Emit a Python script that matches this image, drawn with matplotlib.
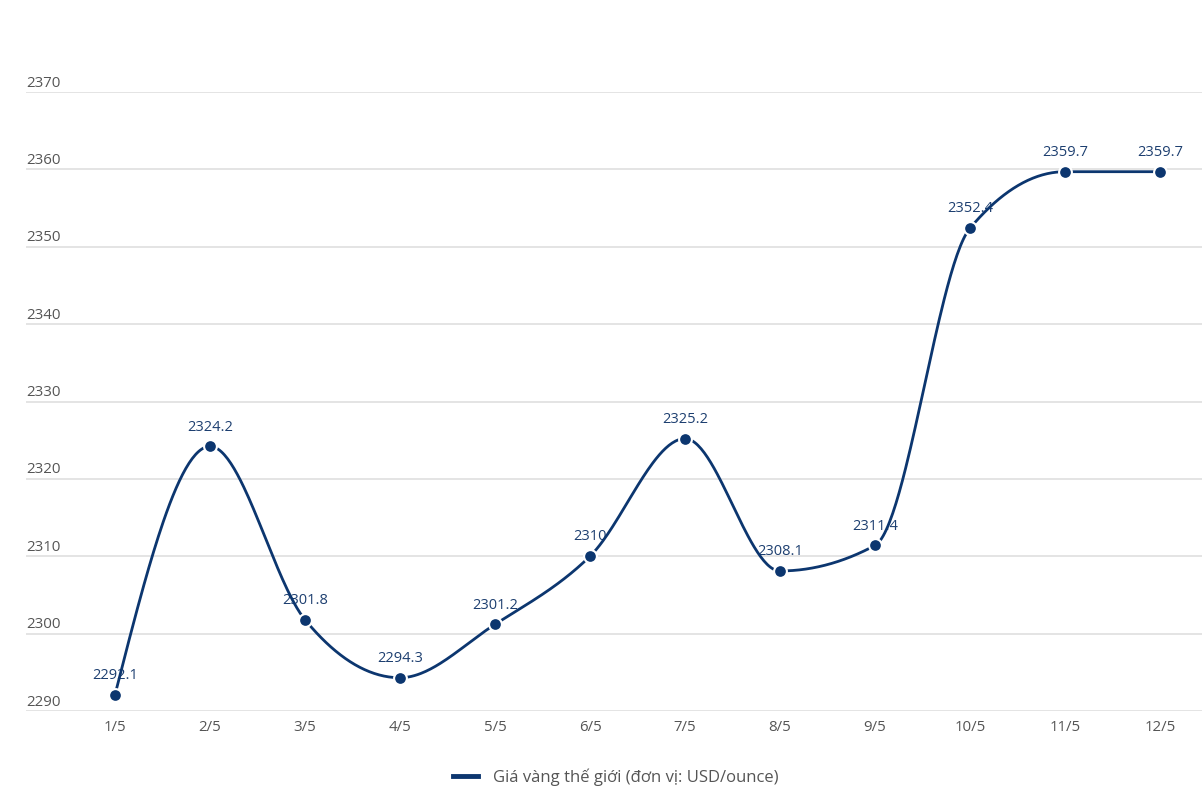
import numpy as np
import matplotlib
matplotlib.use("Agg")
import matplotlib.pyplot as plt
from matplotlib.lines import Line2D

plt.rcParams['font.family'] = ['Open Sans', 'DejaVu Sans']

categories = ["1/5", "2/5", "3/5", "4/5", "5/5", "6/5", "7/5", "8/5", "9/5", "10/5", "11/5", "12/5"]
values = [2292.1, 2324.2, 2301.8, 2294.3, 2301.2, 2310, 2325.2, 2308.1, 2311.4, 2352.4, 2359.7, 2359.7]
value_labels = ["2292.1", "2324.2", "2301.8", "2294.3", "2301.2", "2310", "2325.2", "2308.1", "2311.4", "2352.4", "2359.7", "2359.7"]
y_ticks = [2290, 2300, 2310, 2320, 2330, 2340, 2350, 2360, 2370]
series_name = "Giá vàng thế giới (đơn vị: USD/ounce)"

LINE = "#0c366f"
TEXT_NAVY = "#1d3f70"
GRAY = "#555555"
GRID = "#dcdcdc"


def monotone_x(xs, ys, n=60):
    xs = np.asarray(xs, float)
    ys = np.asarray(ys, float)
    m = len(xs)
    t = np.zeros(m)
    for i in range(1, m - 1):
        h0 = xs[i] - xs[i - 1]
        h1 = xs[i + 1] - xs[i]
        s0 = (ys[i] - ys[i - 1]) / h0
        s1 = (ys[i + 1] - ys[i]) / h1
        p = (s0 * h1 + s1 * h0) / (h0 + h1)
        t[i] = (np.sign(s0) + np.sign(s1)) * min(abs(s0), abs(s1), 0.5 * abs(p))
    h = xs[1] - xs[0]
    t[0] = (3 * (ys[1] - ys[0]) / h - t[1]) / 2
    h = xs[-1] - xs[-2]
    t[-1] = (3 * (ys[-1] - ys[-2]) / h - t[-2]) / 2
    outx, outy = [], []
    for i in range(m - 1):
        dx = xs[i + 1] - xs[i]
        u = np.linspace(0, 1, n)
        h00 = 2 * u**3 - 3 * u**2 + 1
        h10 = u**3 - 2 * u**2 + u
        h01 = -2 * u**3 + 3 * u**2
        h11 = u**3 - u**2
        yy = h00 * ys[i] + h10 * dx * t[i] + h01 * ys[i + 1] + h11 * dx * t[i + 1]
        outx.extend(xs[i] + u * dx)
        outy.extend(yy)
    return np.array(outx), np.array(outy)


W, H = 1202, 811
fig = plt.figure(figsize=(W / 100, H / 100), dpi=100)
left_px, right_px = 26, 1202
top_px, bot_px = 92, 711
ax = fig.add_axes([left_px / W, (H - bot_px) / H, (right_px - left_px) / W, (bot_px - top_px) / H])

x = np.arange(len(categories))
x0_px, dx_px = 115, 95
ax.set_xlim((left_px - x0_px) / dx_px, (right_px - x0_px) / dx_px)
ax.set_ylim(y_ticks[0], y_ticks[-1])
ax.axis('off')

for yv in y_ticks:
    ax.axhline(yv, color=GRID, lw=1.1, zorder=0)
    ax.annotate(str(yv), xy=(0, yv), xycoords=('axes fraction', 'data'),
                xytext=(0, 1.0), textcoords='offset points', ha='left', va='bottom',
                fontsize=10.8, color=GRAY, annotation_clip=False)

for xi, c in zip(x, categories):
    ax.annotate(c, xy=(xi, y_ticks[0]), xycoords='data', xytext=(0, -6.5),
                textcoords='offset points', ha='center', va='top',
                fontsize=10.8, color=GRAY, annotation_clip=False)

cx, cy = monotone_x(x, values)
ax.plot(cx, cy, color=LINE, lw=2.0, zorder=3, solid_capstyle='round', clip_on=False)
ax.scatter(x, values, s=85, color=LINE, edgecolor='white', linewidth=1.5, zorder=4, clip_on=False)

for xi, v, lab in zip(x, values, value_labels):
    ax.annotate(lab, xy=(xi, v), xytext=(0, 8.5), textcoords='offset points',
                ha='center', va='bottom', fontsize=10.5, color=TEXT_NAVY, zorder=2,
                annotation_clip=False)

handle = Line2D([0], [0], color=LINE, lw=3.5)
fig.legend([handle], [series_name], loc='center', bbox_to_anchor=(616 / W, 1 - 777 / H),
           frameon=False, fontsize=12, labelcolor=GRAY, handlelength=1.5, handletextpad=0.9)

fig.savefig("out.png", dpi=100, facecolor='white')
